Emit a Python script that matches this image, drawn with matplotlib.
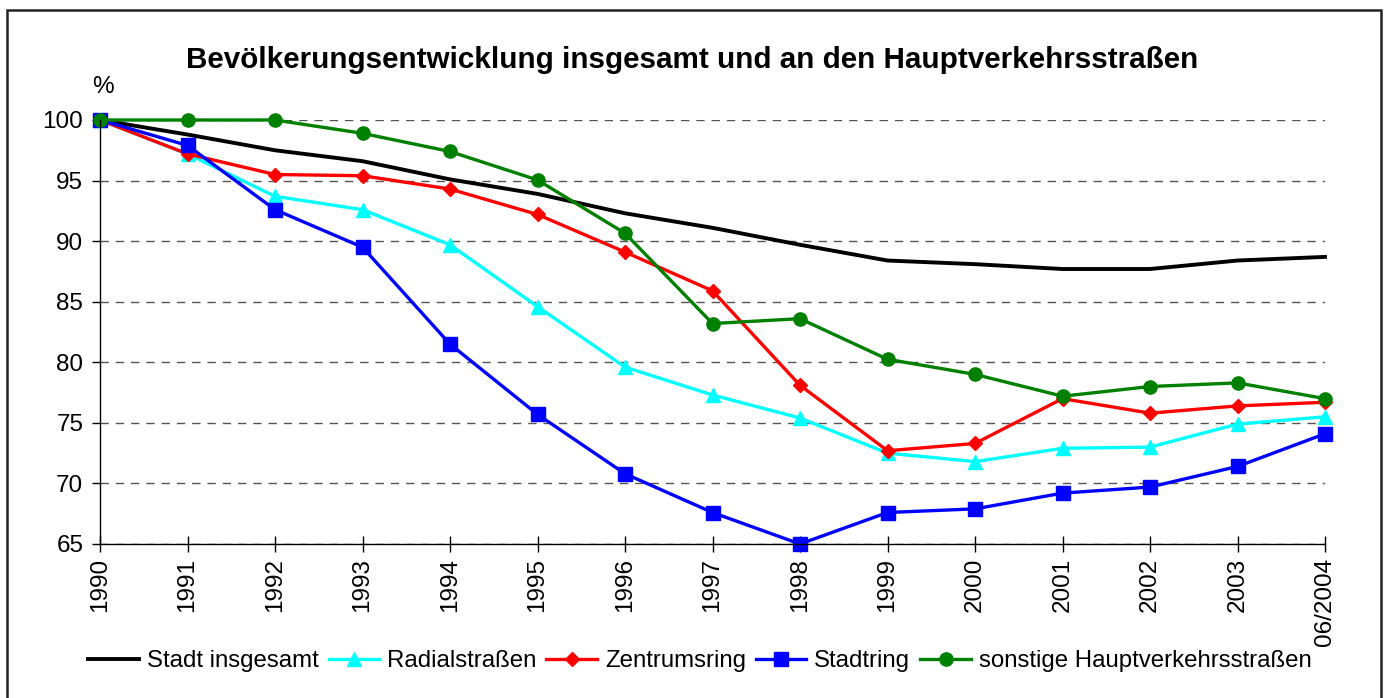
import matplotlib
matplotlib.use("Agg")
import matplotlib.pyplot as plt
from matplotlib.patches import Rectangle

plt.rcParams['font.family'] = ['Liberation Sans', 'DejaVu Sans']

# Daten (Index 1990 = 100)
jahre = ["1990", "1991", "1992", "1993", "1994", "1995", "1996", "1997",
         "1998", "1999", "2000", "2001", "2002", "2003", "06/2004"]
stadt = [100, 98.8, 97.5, 96.6, 95.1, 93.9, 92.3, 91.1, 89.7, 88.4, 88.1, 87.7, 87.7, 88.4, 88.7]
radial = [100, 97.2, 93.7, 92.6, 89.7, 84.6, 79.6, 77.3, 75.4, 72.5, 71.8, 72.9, 73.0, 74.9, 75.5]
zentrum = [100, 97.2, 95.5, 95.4, 94.3, 92.2, 89.1, 85.9, 78.1, 72.7, 73.3, 77.0, 75.8, 76.4, 76.7]
stadtring = [100, 97.9, 92.6, 89.5, 81.5, 75.7, 70.8, 67.6, 65.0, 67.6, 67.9, 69.2, 69.7, 71.4, 74.1]
sonstige = [100, 100, 100, 98.9, 97.4, 95.05, 90.65, 83.2, 83.6, 80.25, 79.0, 77.2, 78.0, 78.3, 77.0]

x = list(range(len(jahre)))

fig = plt.figure(figsize=(13.87, 6.98), dpi=100)
ax = fig.add_axes([100/1387, 1-544/698, 1225/1387, 424/698])

ax.plot(x, stadt, color="black", linewidth=2.8, label="Stadt insgesamt", clip_on=False)
ax.plot(x, radial, color="#00FFFF", linewidth=2.4, marker="^", markersize=10.5,
        label="Radialstraßen", clip_on=False)
ax.plot(x, zentrum, color="#FF0000", linewidth=2.4, marker="D", markersize=7.5,
        label="Zentrumsring", clip_on=False)
ax.plot(x, stadtring, color="#0000FF", linewidth=2.4, marker="s", markersize=9.5,
        label="Stadtring", clip_on=False)
ax.plot(x, sonstige, color="#008000", linewidth=2.4, marker="o", markersize=9.5,
        label="sonstige Hauptverkehrsstraßen", clip_on=False)

ax.set_xlim(0, 14)
ax.set_ylim(65, 100)
ax.set_yticks(range(65, 101, 5))
ax.set_xticks(x)
ax.set_xticklabels(jahre, rotation=90)
ax.tick_params(axis='y', labelsize=17.5, length=6, width=1, direction='out', pad=6)
ax.tick_params(axis='x', labelsize=17.5, length=12, width=1, direction='inout', pad=4)
ax.yaxis.grid(True, color="#555555", linestyle=(0, (6, 5)), linewidth=1)
ax.set_axisbelow(True)
for s in ["top", "right"]:
    ax.spines[s].set_visible(False)
for s in ["left", "bottom"]:
    ax.spines[s].set_linewidth(1)
    ax.spines[s].set_color("black")

fig.text(692/1387, 1-60/698, "Bevölkerungsentwicklung insgesamt und an den Hauptverkehrsstraßen",
         ha="center", va="center", fontsize=21.3, fontweight="bold")
fig.text(103/1387, 1-87/698, "%", ha="center", va="center", fontsize=17.5)

fig.legend(loc="center", bbox_to_anchor=(700/1387, 1-661/698), ncol=5, frameon=False,
           fontsize=17.3, handlelength=2.1, handletextpad=0.33, columnspacing=0.42,
           borderaxespad=0)

fig.add_artist(Rectangle((7/1387, -0.05), (1381-7)/1387, 1.05-10/698,
                         transform=fig.transFigure, fill=False,
                         edgecolor="#222222", linewidth=1.8))

fig.savefig("out.png", dpi=100)
